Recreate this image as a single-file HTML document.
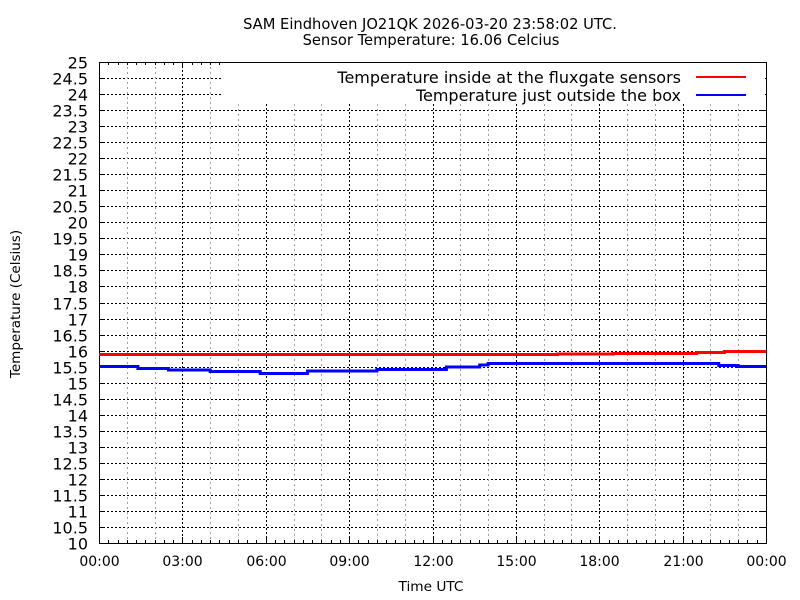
<!DOCTYPE html>
<html><head><meta charset="utf-8"><style>
html,body{margin:0;padding:0;background:#fff;}
svg{display:block;font-family:"DejaVu Sans","Liberation Sans",sans-serif;}
</style></head><body>
<svg id="s" width="800" height="600" xmlns="http://www.w3.org/2000/svg">
<rect width="800" height="600" fill="#fff"/>
<text x="430" y="29" font-size="14.7" text-anchor="middle">SAM Eindhoven JO21QK 2026-03-20 23:58:02 UTC.</text>
<text x="431" y="45" font-size="14.7" text-anchor="middle">Sensor Temperature: 16.06 Celcius</text>
<text x="431" y="591" font-size="13.7" text-anchor="middle">Time UTC</text>
<text x="20" y="304" font-size="13.5" text-anchor="middle" transform="rotate(-90 20 304)">Temperature (Celsius)</text>
<g id="g"></g>
</svg>
<script>
var g=document.getElementById('g'),h='';
var X0=99,X1=766,Y0=543,Y1=62;
function X(t){return X0+t*(X1-X0)/24;}
function Y(v){return Y0-(v-10)*(Y0-Y1)/15;}
for(var i=0;i<=30;i++){var v=10+i*0.5,y=Math.round(Y(v))+0.5;
 var xe=(i==29||i==28)?221:X1;
 if(i>0&&i<30)h+='<line x1="'+X0+'" y1="'+y+'" x2="'+xe+'" y2="'+y+'" stroke="#000" stroke-dasharray="2,2"/>';
 h+='<line x1="'+X0+'" y1="'+y+'" x2="'+(X0+6)+'" y2="'+y+'" stroke="#000"/><line x1="'+(X1-6)+'" y1="'+y+'" x2="'+X1+'" y2="'+y+'" stroke="#000"/>';
 h+='<text x="88" y="'+(y+6)+'" font-size="16" text-anchor="end">'+(v%1?v.toFixed(1):v)+'</text>';}
for(var t=1;t<24;t++){var x=Math.round(X(t))+0.5,maj=t%3==0;
 h+='<line x1="'+x+'" y1="'+(t>=5?104:Y1)+'" x2="'+x+'" y2="'+Y0+'" stroke="'+(maj?'#000':'#a0a0a0')+'" stroke-dasharray="2,'+(maj?2:3)+'"/>';}
for(var t=0;t<=24;t+=3){var x=Math.round(X(t))+0.5;
 h+='<line x1="'+x+'" y1="'+Y0+'" x2="'+x+'" y2="'+(Y0-6)+'" stroke="#000"/><line x1="'+x+'" y1="'+Y1+'" x2="'+x+'" y2="'+(Y1+6)+'" stroke="#000"/>';
 h+='<text x="'+x+'" y="566" font-size="14" text-anchor="middle">'+(t==24?'00':('0'+t).slice(-2))+':00</text>';}
for(var m=0;m<=72;m++){var x=Math.round(X(m/3))+0.5;
 h+='<line x1="'+x+'" y1="'+Y0+'" x2="'+x+'" y2="'+(Y0-3)+'" stroke="#000"/><line x1="'+x+'" y1="'+Y1+'" x2="'+x+'" y2="'+(Y1+3)+'" stroke="#000"/>';}
h+='<rect x="222" y="63" width="543" height="40" fill="#fff"/>';
h+='<rect x="'+X0+'.5" y="'+Y1+'.5" width="'+(X1-X0)+'" height="'+(Y0-Y1)+'" fill="none" stroke="#000"/>';
h+='<text x="681" y="83" font-size="16" text-anchor="end">Temperature inside at the fluxgate sensors</text>';
h+='<line x1="696" y1="77" x2="746" y2="77" stroke="#f00" stroke-width="2"/>';
h+='<text x="681" y="101" font-size="16" text-anchor="end">Temperature just outside the box</text>';
h+='<line x1="696" y1="95" x2="746" y2="95" stroke="#00f" stroke-width="2"/>';
function step(pts,col){var d='M'+X(pts[0][0])+' '+pts[0][1];for(var i=1;i<pts.length;i++){d+=' H'+X(pts[i][0])+' V'+pts[i][1];}d+=' H'+X1;
 return '<path d="'+d+'" fill="none" stroke="'+col+'" stroke-width="3"/>';}
h+=step([[0,354.5],[16.5,354],[18.5,353.5],[21.5,352.5],[22.5,351.5]],'#f00');
h+=step([[0,366.5],[1.4,368.5],[2.5,370],[4,371.5],[5.8,373.5],[7.5,371],[10,369.5],[12.5,367],[13.7,365],[14,363.5],[22.3,365.5],[23,366.5]],'#00f');
g.innerHTML=h;
</script>
</body></html>
